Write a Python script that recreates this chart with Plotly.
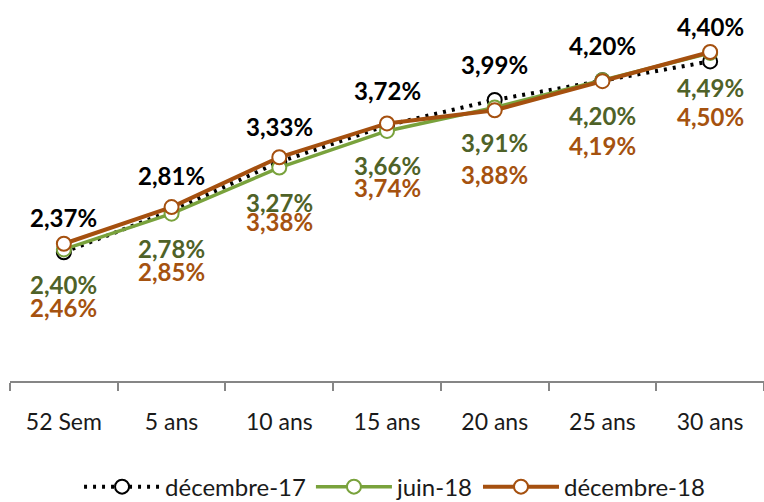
import plotly.graph_objects as go

categories = ["52 Sem", "5 ans", "10 ans", "15 ans", "20 ans", "25 ans", "30 ans"]
dec17 = [2.37, 2.81, 3.33, 3.72, 3.99, 4.20, 4.40]
jun18 = [2.40, 2.78, 3.27, 3.66, 3.91, 4.20, 4.49]
dec18 = [2.46, 2.85, 3.38, 3.74, 3.88, 4.19, 4.50]
series_names = ["décembre-17", "juin-18", "décembre-18"]

def fmt(v):
    return f"{v:.2f}".replace(".", ",") + "%"

BLACK = "#000000"
GREEN_LINE = "#79A23C"
GREEN_TEXT = "#4F6228"
BROWN_LINE = "#A5500F"
BROWN_TEXT = "#A5520F"

FONT = "Lato, 'Open Sans', sans-serif"

fig = go.Figure()
fig.add_trace(go.Scatter(
    x=categories, y=dec17, name=series_names[0], mode="lines+markers",
    line=dict(color=BLACK, width=4, dash="3px,6px"),
    marker=dict(symbol="circle", size=14, color="white", line=dict(color=BLACK, width=2)),
))
fig.add_trace(go.Scatter(
    x=categories, y=jun18, name=series_names[1], mode="lines+markers",
    line=dict(color=GREEN_LINE, width=3.5),
    marker=dict(symbol="circle", size=14, color="white", line=dict(color=GREEN_LINE, width=2)),
))
fig.add_trace(go.Scatter(
    x=categories, y=dec18, name=series_names[2], mode="lines+markers",
    line=dict(color=BROWN_LINE, width=4),
    marker=dict(symbol="circle", size=14, color="white", line=dict(color=BROWN_LINE, width=2)),
))

for c, v in zip(categories, dec17):
    fig.add_annotation(x=c, y=v, text=fmt(v), showarrow=False, yshift=35,
                       font=dict(family=FONT, size=24, color=BLACK, weight="bold"))
for c, v in zip(categories, jun18):
    fig.add_annotation(x=c, y=v, text=fmt(v), showarrow=False, yshift=-35,
                       font=dict(family=FONT, size=24, color=GREEN_TEXT, weight="bold"))
for c, v in zip(categories, dec18):
    fig.add_annotation(x=c, y=v, text=fmt(v), showarrow=False, yshift=-64,
                       font=dict(family=FONT, size=24, color=BROWN_TEXT, weight="bold"))

fig.update_layout(
    width=764, height=502,
    margin=dict(l=10, r=0, t=5, b=121, autoexpand=False),
    paper_bgcolor="white", plot_bgcolor="white",
    showlegend=True,
    legend=dict(orientation="h", x=0.51, xanchor="center", y=-0.282, yanchor="middle",
                font=dict(family=FONT, size=24, color="#1a1a1a"),
                itemwidth=76, bgcolor="rgba(0,0,0,0)"),
    xaxis=dict(type="category", range=[-0.5, 6.5], showline=True, linecolor="#868686",
               linewidth=1.5, ticks="outside", tickson="boundaries", ticklen=8,
               tickcolor="#868686", tickwidth=1.5, showgrid=False, zeroline=False,
               ticklabelstandoff=20,
               tickfont=dict(family=FONT, size=23, color="#1a1a1a")),
    yaxis=dict(range=[1, 5], visible=False, showgrid=False, zeroline=False),
)

fig.write_html("out.html", config={"displayModeBar": False},
               post_script="document.body.style.margin='0';")
